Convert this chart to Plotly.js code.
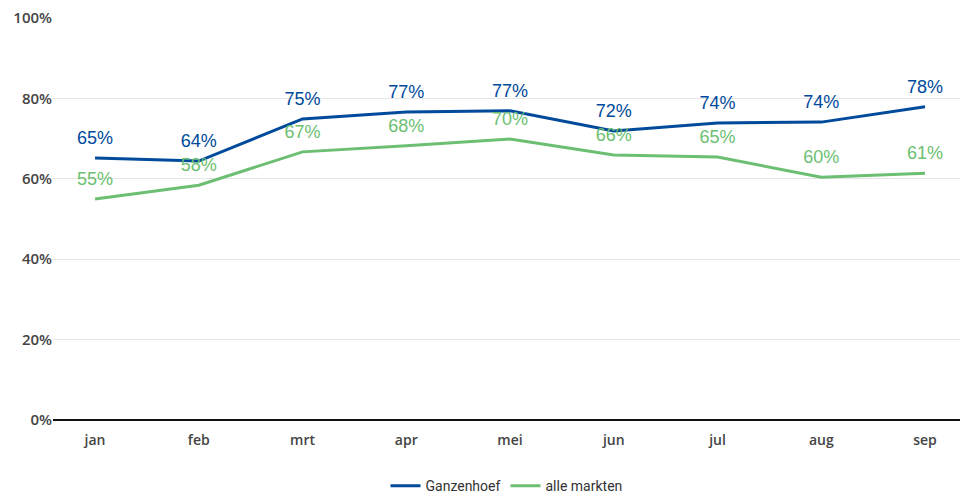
<!DOCTYPE html>
<html>
<head>
<meta charset="utf-8">
<script src="https://cdn.plot.ly/plotly-3.0.1.min.js"></script>
<style>html,body{margin:0;padding:0;background:#fff;}#chart{width:960px;height:499px;}</style>
</head>
<body>
<div id="chart"></div>
<script>
const months = ["jan","feb","mrt","apr","mei","jun","jul","aug","sep"];
const ganzenhoef = [65.2, 64.4, 74.9, 76.6, 76.9, 71.9, 73.9, 74.1, 77.9];
const alleMarkten = [55.0, 58.4, 66.7, 68.2, 69.9, 65.9, 65.4, 60.4, 61.4];
const yTicks = [0, 20, 40, 60, 80, 100];
const yTickLabels = ["0%", "20%", "40%", "60%", "80%", "100%"];

const blue = "#004a9b";
const green = "#6cbf72";

function mk(name, vals, color) {
  return {
    type: "scatter",
    mode: "lines+markers+text",
    name: name,
    x: months,
    y: vals,
    text: vals.map(v => Math.round(v) + "%"),
    textposition: "top center",
    textfont: {family: "Liberation Sans, Arial, sans-serif", size: 18, color: color},
    line: {color: color, width: 3},
    marker: {size: 14, color: "rgba(0,0,0,0)", line: {width: 0}},
    cliponaxis: false,
    hoverinfo: "skip"
  };
}

const data = [mk("Ganzenhoef", ganzenhoef, blue), mk("alle markten", alleMarkten, green)];

const layout = {
  width: 960, height: 499,
  margin: {l: 53, r: 0, t: 18, b: 79, autoexpand: false},
  paper_bgcolor: "#fff", plot_bgcolor: "#fff",
  showlegend: true,
  legend: {orientation: "h", x: 0.5, xanchor: "center", xref: "paper",
    y: 0.026, yanchor: "middle", yref: "container",
    itemwidth: 30,
    font: {family: "Roboto, sans-serif", size: 14, color: "#333"}},
  xaxis: {
    type: "category",
    range: [-0.405, 8.337],
    showgrid: false, zeroline: false, showline: false,
    ticks: "",
    tickfont: {family: "Open Sans, sans-serif", size: 14, color: "#444", weight: 600},
    ticklabelstandoff: 10
  },
  yaxis: {
    range: [0, 100],
    tickvals: yTicks, ticktext: yTickLabels,
    showgrid: true, gridcolor: "#e6e6e6", gridwidth: 1,
    zeroline: true, zerolinecolor: "#111", zerolinewidth: 2,
    showline: false, ticks: "",
    tickfont: {family: "Open Sans, sans-serif", size: 15, color: "#444", weight: 600},
    fixedrange: true
  }
};

Plotly.newPlot("chart", data, layout, {displayModeBar: false, staticPlot: true});
</script>
</body>
</html>
